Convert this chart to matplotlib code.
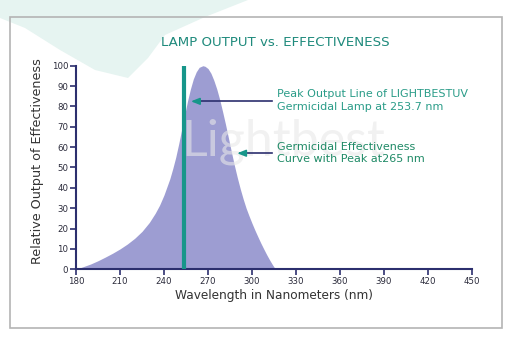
import matplotlib.pyplot as plt
from matplotlib.patches import Rectangle, Polygon

plt.switch_backend("Agg")

# germicidal effectiveness curve (wavelength nm, relative output %)
wavelength = [180, 185, 190, 195, 200, 205, 210, 215, 220, 225, 230, 234,
              237, 240, 242, 244, 246, 248, 250, 252, 254, 256, 258, 260,
              262, 264, 266.5, 268, 270, 272, 274, 276, 278, 280, 282, 284,
              286, 288, 290, 292, 294, 296, 298, 300, 302, 304, 306, 308,
              310, 312, 314, 316]
effectiveness = [0, 1.3, 2.6, 4.2, 6, 7.9, 10, 12.4, 15.2, 18.6, 23, 27.5,
                 31.5, 36.5, 40.5, 44.5, 49.5, 55, 61.5, 68.5, 75.5, 82.5, 88.5, 93.5,
                 97, 99.2, 100, 99.7, 98.6, 96.3, 92.8, 88.5, 83.3, 77.3, 71, 64.3,
                 57.5, 51, 45, 39.5, 34.5, 30, 26.2, 22.6, 19.2, 16, 12.9, 10,
                 7.2, 4.6, 2.2, 0]

lamp_peak = 253.7
x_ticks = [180, 210, 240, 270, 300, 330, 360, 390, 420, 450]
y_ticks = [0, 10, 20, 30, 40, 50, 60, 70, 80, 90, 100]

NAVY = "#2c2f6e"
TEAL = "#17968a"
FILL = "#9d9dd2"

plt.rcParams["font.family"] = ["DejaVu Sans"]

fig = plt.figure(figsize=(5.12, 3.38), dpi=100)
fig.patch.set_facecolor("white")


def px(x, y):
    # pixel position (from top-left) -> figure fraction
    return x / 512, 1 - y / 338


# faint logo swoosh in the background
swoosh = [(0, 0), (248, 0), (205, 17), (165, 35), (148, 58), (128, 78),
          (95, 70), (60, 50), (25, 28), (0, 18)]
fig.patches.append(Polygon([px(x, y) for x, y in swoosh], closed=True,
                           transform=fig.transFigure, facecolor="#e6f4f1",
                           edgecolor="none", zorder=-2))

# outer frame
fig.patches.append(Rectangle(px(10, 328), 492 / 512, 311 / 338,
                             transform=fig.transFigure, fill=False,
                             edgecolor="#b4b4b4", lw=1.2, zorder=1))

ax = fig.add_axes([0.1484, 0.2033, 0.7735, 0.6023])
ax.set_facecolor("none")

ax.fill_between(wavelength, effectiveness, 0, color=FILL, lw=0, zorder=2)
ax.plot([lamp_peak, lamp_peak], [0, 100], color=TEAL, lw=3, zorder=3,
        solid_capstyle="butt")

ax.set_xlim(180, 450)
ax.set_ylim(0, 100)
ax.set_xticks(x_ticks)
ax.set_yticks(y_ticks)
ax.tick_params(colors=NAVY, labelsize=6.2, length=4, width=1.2, direction="out",
               pad=1.5)
for lab in ax.get_xticklabels() + ax.get_yticklabels():
    lab.set_color("#2a2a3a")

for side in ["top", "right"]:
    ax.spines[side].set_visible(False)
for side in ["left", "bottom"]:
    ax.spines[side].set_color(NAVY)
    ax.spines[side].set_linewidth(1.5)

ax.set_xlabel("Wavelength in Nanometers (nm)", fontsize=8.7, color="#333333",
              labelpad=2)
ax.set_ylabel("Relative Output of Effectiveness", fontsize=9.2, color="#333333")
ax.yaxis.set_label_coords(-0.08, 0.53)

fig.text(*px(275, 42), "LAMP OUTPUT vs. EFFECTIVENESS", ha="center",
         va="center", fontsize=9.6, color="#1f8a7c")

# watermark, above the fill but under the callouts
ax.text(*px(283, 142), "Lightbest", transform=fig.transFigure, ha="center",
        va="center", fontsize=36, color="#e8e8e8", alpha=0.6, zorder=3.5,
        family="Lato")

# callouts
ax.plot([262, 313.5], [82.5, 82.5], color=NAVY, lw=1.2, zorder=4)
ax.annotate("", xy=(256.5, 82.5), xytext=(266, 82.5),
            arrowprops=dict(arrowstyle="-|>,head_length=0.5,head_width=0.2",
                            color=TEAL, lw=1.2), zorder=5)
ax.text(317, 83, "Peak Output Line of LIGHTBESTUV\nGermicidal Lamp at 253.7 nm",
        fontsize=8.0, color="#2a9c88", va="center", ha="left", linespacing=1.45,
        zorder=6)

ax.plot([292, 313.5], [57, 57], color=NAVY, lw=1.2, zorder=4)
ax.annotate("", xy=(288, 57), xytext=(296, 57),
            arrowprops=dict(arrowstyle="-|>,head_length=0.5,head_width=0.2",
                            color=TEAL, lw=1.2), zorder=5)
ax.text(317, 57, "Germicidal Effectiveness\nCurve with Peak at265 nm",
        fontsize=8.0, color="#1f8a66", va="center", ha="left", linespacing=1.2,
        zorder=6)

fig.savefig("out.png", dpi=100)
